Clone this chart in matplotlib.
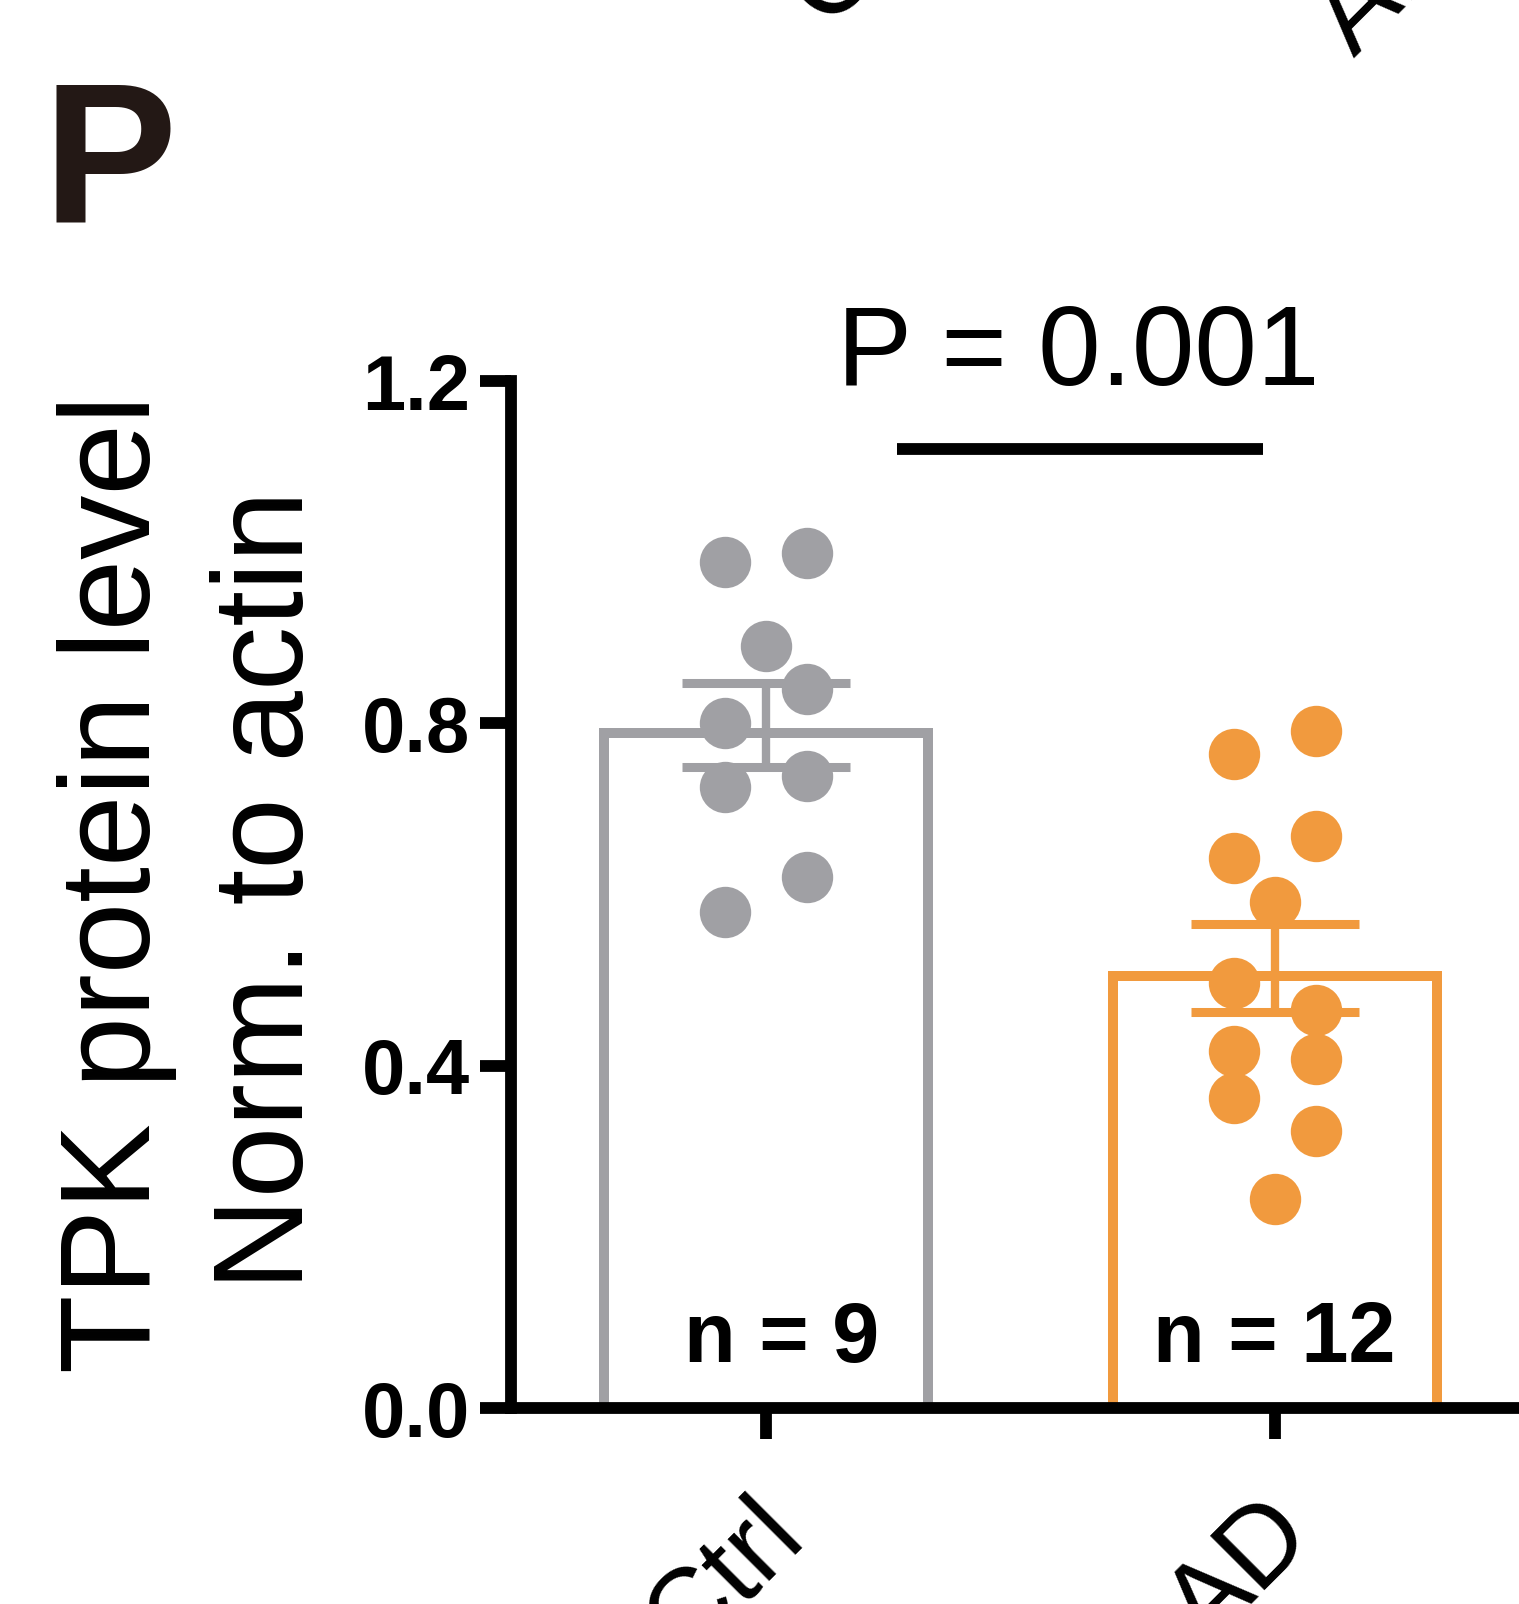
import matplotlib
matplotlib.use('Agg')
import matplotlib.pyplot as plt
from matplotlib.transforms import ScaledTranslation

plt.rcParams['font.family'] = ['Liberation Sans', 'DejaVu Sans']

# ---------------- data ----------------
groups = ['Ctrl', 'AD']
ctrl_values = [0.989, 0.999, 0.890, 0.840, 0.800, 0.738, 0.726, 0.621, 0.580]
ctrl_cols = [-1, 1, 0, 1, -1, 1, -1, 1, -1]
ad_values = [0.791, 0.764, 0.668, 0.643, 0.591, 0.497, 0.465, 0.417, 0.408, 0.362, 0.324, 0.244]
ad_cols = [1, -1, 1, -1, 0, -1, 1, -1, 1, -1, 1, 0]
bar_means = [0.798, 0.514]
bar_sems = [0.049, 0.051]
n_labels = ['n = 9', 'n = 12']
y_ticks = [0.0, 0.4, 0.8, 1.2]
y_ticklabels = ['0.0', '0.4', '0.8', '1.2']
p_text = 'P = 0.001'
ylabel_lines = ['TPK protein level', 'Norm. to actin']
panel_letter = 'P'
prev_panel_labels = ['Ctrl', 'AD']

colors = ['#A0A0A4', '#F19A3E']

# ---------------- layout ----------------
W, H = 1519, 1604
fig = plt.figure(figsize=(W / 100, H / 100), dpi=100)
ax = fig.add_axes([511 / W, 1 - 1408 / H, 1069 / W, 1027 / H])
ax.set_xlim(-0.501, 1.6)
ax.set_ylim(0, 1.2)

for s in ['top', 'right']:
    ax.spines[s].set_visible(False)
for s in ['left', 'bottom']:
    ax.spines[s].set_linewidth(8.5)
    ax.spines[s].set_color('black')
    ax.spines[s].set_zorder(5)

# bars (border drawn inside the bar, as in Prism)
bar_inset = 0.009
ax.bar([0, 1], [m - bar_inset for m in bar_means], width=0.637, facecolor='white',
       edgecolor=colors, linewidth=7.2, zorder=1)

# dots
col_step = 0.0805
for i, (vals, cols) in enumerate([(ctrl_values, ctrl_cols), (ad_values, ad_cols)]):
    xs = [i + c * col_step for c in cols]
    ax.plot(xs, vals, 'o', color=colors[i], markersize=37, markeredgewidth=0,
            linestyle='none', zorder=3)
    ax.errorbar([i], [bar_means[i]], yerr=[bar_sems[i]], fmt='none',
                ecolor=colors[i], elinewidth=6, capsize=60.5, capthick=6.5, zorder=4)

# n labels
n_dx_px = [16, 0]
for i, lbl in enumerate(n_labels):
    ax.text(i, 0.054, lbl, ha='center', va='baseline', fontsize=61,
            fontweight='bold', zorder=6,
            transform=ax.transData + ScaledTranslation(n_dx_px[i] / 100, 0, fig.dpi_scale_trans))

# ticks
ax.set_yticks(y_ticks)
ax.set_yticklabels(y_ticklabels, fontsize=56, fontweight='bold')
ax.tick_params(axis='y', direction='out', length=22, width=8.5, pad=7.5)
ax.set_xticks([0, 1])
ax.set_xticklabels(groups, rotation=45, ha='right', va='top',
                   rotation_mode='anchor', fontsize=80)
ax.tick_params(axis='x', direction='out', length=22, width=8.5, pad=30.5)
for lab in ax.get_xticklabels():
    lab.set_transform(lab.get_transform() + ScaledTranslation(-0.16, 0, fig.dpi_scale_trans))

# significance
ax.plot([0.257, 0.976], [1.1206, 1.1206], color='black', linewidth=8.5,
        solid_capstyle='butt', clip_on=False)
ax.text(0.613, 1.195, p_text, ha='center', va='baseline', fontsize=81, clip_on=False)

# y label (two lines)
fig.text(150 / W, 1 - 884 / H, ylabel_lines[0], rotation=90, rotation_mode='anchor',
         ha='center', va='baseline', fontsize=92.5)
fig.text(303 / W, 1 - 890 / H, ylabel_lines[1], rotation=90, rotation_mode='anchor',
         ha='center', va='baseline', fontsize=92.5)

# panel letter
fig.text(42 / W, 1 - 222 / H, panel_letter, fontsize=145, fontweight='bold',
         color='#231815', ha='left', va='baseline',
         family=['Liberation Sans Narrow', 'Liberation Sans', 'DejaVu Sans'])

# clipped labels from the panel above
fig.text(826 / W, 1 - 27 / H, prev_panel_labels[0], rotation=45, rotation_mode='anchor',
         ha='left', va='baseline', fontsize=80)
fig.text(1353 / W, 1 - 58 / H, prev_panel_labels[1], rotation=45, rotation_mode='anchor',
         ha='left', va='baseline', fontsize=80)

fig.savefig('out.png', dpi=100)
